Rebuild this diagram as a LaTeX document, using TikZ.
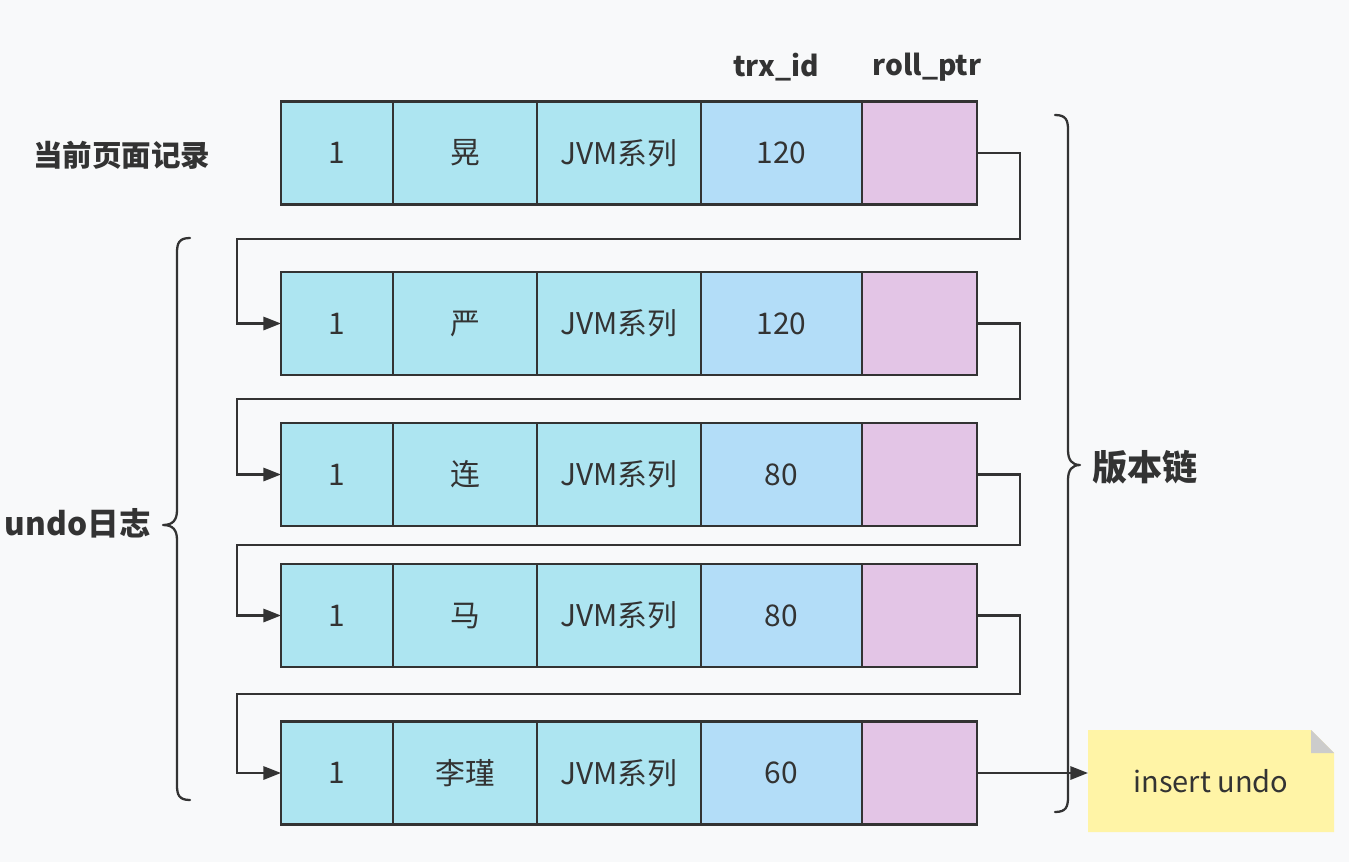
\documentclass[tikz,border=0pt]{standalone}
\usepackage{fontspec}
\setmainfont{Noto Sans CJK SC}
\usetikzlibrary{arrows.meta}
\definecolor{bgc}{HTML}{F8F9FA}
\definecolor{cyanc}{HTML}{ADE5F1}
\definecolor{bluec}{HTML}{B3DDF8}
\definecolor{purc}{HTML}{E3C5E6}
\definecolor{linec}{HTML}{333333}
\definecolor{notec}{HTML}{FFF4A6}
\definecolor{foldc}{HTML}{CCCCCC}
\tikzset{
  cellbox/.style={draw=linec, line width=1.3pt, inner sep=0pt, outer sep=0pt, minimum height=2.06cm, text=linec, font=\fontsize{17pt}{19pt}\selectfont},
  cyancell/.style={cellbox, fill=cyanc},
  bluecell/.style={cellbox, fill=bluec},
  purcell/.style={cellbox, fill=purc},
  link/.style={draw=linec, line width=1.3pt, -{Triangle[length=10pt,width=7.5pt]}},
  brace/.style={draw=linec, line width=1.3pt, line cap=round, line join=round},
  lbl/.style={text=linec, font=\bfseries\fontsize{16pt}{19pt}\selectfont, inner sep=0pt},
}
\newcommand\datarow[4]{%
  \node[cyancell, minimum width=2.24cm] (#1a) at (337,#2) {1};
  \node[cyancell, minimum width=2.88cm] (#1b) at (465,#2) {#3};
  \node[cyancell, minimum width=3.28cm] (#1c) at (619,#2) {JVM系列};
  \node[bluecell, minimum width=3.22cm] (#1d) at (781.5,#2) {#4};
  \node[purcell, minimum width=2.30cm] (#1e) at (919.5,#2) {};
}
\begin{document}
\begin{tikzpicture}[x=0.02cm,y=-0.02cm]
\useasboundingbox (0,0) rectangle (1349,862);
\fill[bgc] (0,0) rectangle (1349,862);

% headers
\node[lbl] (hx) at (776,67) {trx\_id};
\node[lbl] (hr) at (927,67) {roll\_ptr};
\node[lbl, anchor=west, font=\bfseries\fontsize{16.8pt}{19pt}\selectfont] (cur) at (33,155) {当前页面记录};

% rows
\datarow{r1}{153}{晃}{120}
\datarow{r2}{323.5}{严}{120}
\datarow{r3}{474.5}{连}{80}
\datarow{r4}{615.5}{马}{80}
\datarow{r5}{773}{李瑾}{60}

% connectors
\coordinate (t1) at (1020,239); \coordinate (u1) at (237,239);
\coordinate (t2) at (1020,399); \coordinate (u2) at (237,399);
\coordinate (t3) at (1020,545); \coordinate (u3) at (237,545);
\coordinate (t4) at (1020,694); \coordinate (u4) at (237,694);
\draw[link] (r1e.east) -| (t1) -- (u1) |- (r2a.west);
\draw[link] (r2e.east) -| (t2) -- (u2) |- (r3a.west);
\draw[link] (r3e.east) -| (t3) -- (u3) |- (r4a.west);
\draw[link] (r4e.east) -| (t4) -- (u4) |- (r5a.west);

% note
\fill[notec] (1088,730) -- (1311,730) -- (1334,753) -- (1334,832) -- (1088,832) -- cycle;
\fill[foldc] (1311,730) -- (1311,753) -- (1334,753) -- cycle;
\node[text=linec, font=\fontsize{16.5pt}{19pt}\selectfont] (note) at (1211,781) {insert undo};
\coordinate (noteW) at (1088,781);
\draw[link] (r5e.east) -- (r5e.east -| noteW);

% right brace
\draw[brace] (1055,115) .. controls (1066,115) and (1068,120) .. (1068,130)
  -- (1068,450) .. controls (1068,460) and (1072,465) .. (1080,465)
  .. controls (1072,465) and (1068,470) .. (1068,480)
  -- (1068,797) .. controls (1068,807) and (1066,812) .. (1055,812);
\node[lbl, anchor=west, font=\bfseries\fontsize{20pt}{22pt}\selectfont] (chain) at (1092,467) {版本链};

% left brace
\draw[brace] (190,238) .. controls (179,238) and (177,243) .. (177,253)
  -- (177,510) .. controls (177,520) and (173,525) .. (163,525)
  .. controls (173,525) and (177,530) .. (177,540)
  -- (177,785) .. controls (177,795) and (179,800) .. (190,800);
\node[lbl, anchor=east, font=\bfseries\fontsize{18pt}{20pt}\selectfont] (undo) at (151,523) {undo日志};
\end{tikzpicture}
\end{document}
